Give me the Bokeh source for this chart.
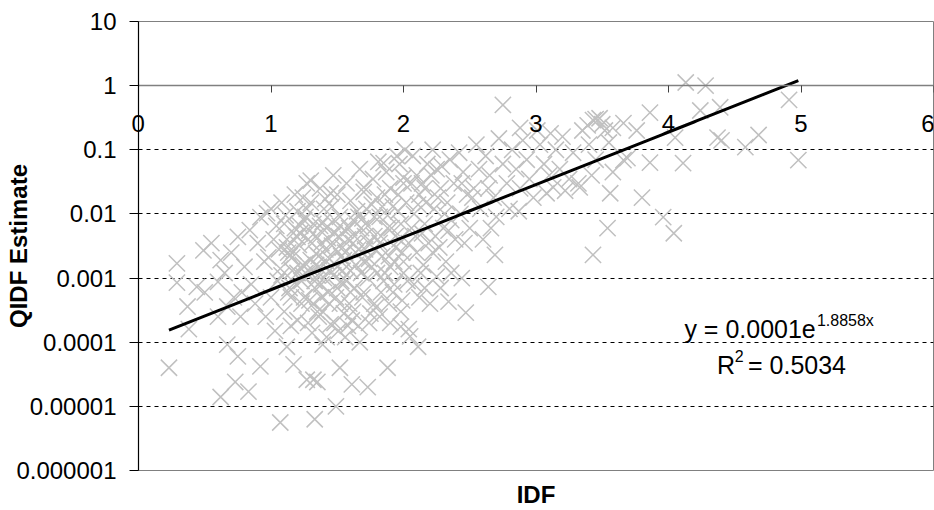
import numpy as np
from bokeh.plotting import figure
from bokeh.models import FixedTicker, CustomJSTickFormatter, Label, LinearAxis
from bokeh.embed import file_html
from bokeh.resources import INLINE

# ---------------- data ----------------
idf = [
    4.13, 4.28, 4.91, 3.86, 3.66, 4.05, 4.37, 4.40, 4.68, 4.58, 4.24, 4.39, 4.98, 3.86, 4.11, 3.76,
    3.66, 3.80, 3.96, 4.04, 2.75, 3.43, 3.48, 3.39, 3.52, 3.58, 3.56, 3.54, 3.43, 2.69, 2.64, 2.47,
    2.34, 2.11, 2.04, 2.44, 2.25, 3.13, 3.22, 3.33, 3.69, 3.01, 3.11, 2.88, 3.08, 3.32, 2.05, 1.98,
    1.88, 1.73, 1.61, 1.52, 1.49, 1.33, 1.35, 1.67, 1.39, 0.23, 0.73, 0.62, 0.83, 0.75, 0.92, 0.67,
    1.07, 1.17, 1.27, 1.12, 1.32,
    0.29, 0.49, 0.29, 0.44, 0.62, 0.37, 0.38, 0.60, 0.67, 0.75, 0.84, 0.77, 0.92, 0.97, 1.30, 1.24,
    1.20, 1.70, 1.85, 2.00, 1.45, 0.55, 0.65, 0.70, 0.80, 0.85, 0.90, 0.78, 0.88, 0.72, 0.50, 0.95,
    0.60,
    1.00, 1.02, 0.98, 1.05, 1.00, 0.96, 1.04, 1.03,
    1.08, 1.10, 1.12, 1.07, 1.13, 1.10, 1.15, 1.11, 1.14,
    1.18, 1.20, 1.22, 1.17, 1.24, 1.19, 1.23, 1.20, 1.25, 1.21,
    1.27, 1.30, 1.32, 1.28, 1.34, 1.30, 1.33, 1.29, 1.35, 1.31, 1.26, 1.34, 1.30,
    1.37, 1.40, 1.42, 1.38, 1.44, 1.40, 1.43, 1.39, 1.45, 1.41, 1.36, 1.43, 1.38,
    1.47, 1.50, 1.52, 1.48, 1.54, 1.50, 1.53, 1.49, 1.55, 1.51, 1.46, 1.53,
    1.57, 1.60, 1.62, 1.58, 1.64, 1.60, 1.63, 1.59, 1.61, 1.65, 1.56,
    1.67, 1.70, 1.72, 1.68, 1.74, 1.70, 1.73, 1.69, 1.75, 1.71,
    1.77, 1.80, 1.82, 1.78, 1.84, 1.80, 1.83, 1.79, 1.81,
    1.87, 1.90, 1.92, 1.88, 1.94, 1.90, 1.93, 1.89, 1.95,
    1.97, 2.00, 2.02, 1.98, 2.04, 2.00, 2.03, 1.99, 2.01,
    2.07, 2.10, 2.12, 2.08, 2.14, 2.10, 2.13, 2.18, 2.17, 2.19, 2.16,
    2.22, 2.25, 2.28, 2.23, 2.30, 2.27, 2.35, 2.38, 2.33, 2.36, 2.32, 2.39,
    2.42, 2.45, 2.48, 2.43, 2.50, 2.55, 2.57, 2.53, 2.58, 2.46, 2.60,
    2.62, 2.65, 2.68, 2.70, 2.72, 2.75, 2.78, 2.66, 2.80,
    2.82, 2.85, 2.88, 2.90, 2.93, 2.95, 2.98, 2.87,
    3.03, 3.06, 3.10, 3.15, 3.18, 3.20, 3.25, 3.28,
    3.35, 3.40, 3.45, 3.50, 3.55, 3.58, 3.45, 3.42,
    1.25, 1.32, 1.38, 1.44, 1.28, 1.36, 1.42, 1.48, 1.52, 1.56, 1.60, 1.20, 1.15, 1.08,
    1.12, 1.16, 1.22, 1.26, 1.31, 1.35, 1.41, 1.46, 1.51, 1.55, 1.62, 1.66, 1.71, 1.76, 1.82, 1.86,
    1.91, 1.96, 2.06, 2.11, 2.16, 2.21, 2.26, 2.31,
    1.14, 1.19, 1.24, 1.29, 1.34, 1.39, 1.44, 1.49, 1.54, 1.59, 1.64, 1.69, 1.74, 1.79, 1.84, 1.89,
    1.94, 1.99, 2.09, 2.14, 2.24, 2.29, 2.34, 2.44, 2.52, 2.64,
    1.13, 1.18, 1.23, 1.27, 1.33, 1.37, 1.42, 1.47, 1.52, 1.57, 1.63, 1.68, 1.73, 1.78, 1.83, 1.88,
    1.93, 1.97, 1.06, 1.16, 1.26, 1.36, 1.46, 1.56, 1.66, 1.76, 1.86, 1.96, 2.06, 2.16,
    1.62, 1.70, 1.78, 1.85, 1.92, 2.00, 2.08, 2.15, 2.22, 1.66, 1.74, 1.82, 1.90, 1.98, 2.12, 2.20,
    2.28, 2.36, 1.58, 1.50,
]
qidf = [
    1.12, 1.0, 0.6, 0.38, 0.26, 0.155, 0.155, 0.14, 0.17, 0.11, 0.41, 0.46, 0.069, 0.063, 0.062, 0.2,
    0.069, 0.018, 0.0089, 0.005, 0.5, 0.29, 0.31, 0.24, 0.2, 0.22, 0.021, 0.006, 0.0023, 0.0023, 0.00073, 0.00029,
    0.00043, 8.5e-5, 0.00016, 0.001, 0.00105, 0.026, 0.023, 0.026, 0.074, 0.2, 0.18, 0.22, 0.021, 0.030, 0.000123, 0.000175,
    4.0e-5, 2.0e-5, 2.2e-5, 4.0e-5, 1.0e-5, 6.3e-6, 2.4e-5, 1.0e-4, 9.2e-5, 4.0e-5, 2.4e-5, 1.4e-5, 1.7e-5, 6.0e-5, 4.2e-5, 9.2e-5,
    5.6e-6, 4.5e-5, 2.6e-5, 8.5e-5, 2.6e-5,
    0.0017, 0.0027, 0.00085, 0.00073, 0.0019, 0.00036, 0.00016, 0.00087, 0.00036, 0.0044, 0.0056, 0.00025, 0.0089, 0.0103, 0.033, 0.018,
    0.0044, 0.026, 0.062, 0.037, 0.021, 0.0035, 0.0012, 0.0025, 0.0015, 0.0008, 0.0035, 0.0006, 0.0004, 0.0005, 0.0006, 0.0018,
    0.00025,
    0.012, 0.004, 0.0021, 0.0009, 0.0005, 0.00025, 0.0065, 0.00015,
    0.015, 0.007, 0.003, 0.0014, 0.0006, 0.0003, 0.00018, 0.0095, 0.0022,
    0.02, 0.011, 0.005, 0.0026, 0.0016, 0.0008, 0.0004, 0.00022, 0.008, 0.0033,
    0.03, 0.015, 0.007, 0.004, 0.0024, 0.0012, 0.0007, 0.00045, 0.0003, 0.00014, 0.009, 0.0045, 0.0019,
    0.025, 0.012, 0.006, 0.0035, 0.002, 0.001, 0.0006, 0.0003, 0.00019, 0.017, 0.0015, 0.0042, 0.0008,
    0.04, 0.02, 0.009, 0.005, 0.003, 0.0015, 0.0009, 0.0005, 0.00028, 0.00015, 0.013, 0.0022,
    0.03, 0.016, 0.008, 0.004, 0.0025, 0.0013, 0.0007, 0.0004, 0.00022, 0.011, 0.0055,
    0.05, 0.022, 0.012, 0.006, 0.0035, 0.0018, 0.001, 0.0005, 0.00028, 0.0028,
    0.035, 0.018, 0.009, 0.0045, 0.0022, 0.0012, 0.0006, 0.00035, 0.065,
    0.045, 0.025, 0.013, 0.006, 0.003, 0.0015, 0.0008, 0.0004, 0.08,
    0.06, 0.03, 0.015, 0.007, 0.0035, 0.0018, 0.0009, 0.00045, 0.1,
    0.08, 0.04, 0.02, 0.01, 0.005, 0.0025, 0.0012, 0.06, 0.015, 0.0035, 0.0007,
    0.1, 0.05, 0.025, 0.012, 0.006, 0.003, 0.07, 0.03, 0.015, 0.008, 0.0018, 0.004,
    0.09, 0.045, 0.02, 0.01, 0.006, 0.12, 0.05, 0.025, 0.012, 0.0035, 0.004,
    0.08, 0.04, 0.018, 0.009, 0.15, 0.06, 0.03, 0.006, 0.012,
    0.1, 0.05, 0.025, 0.14, 0.07, 0.035, 0.018, 0.011,
    0.12, 0.06, 0.04, 0.1, 0.05, 0.16, 0.035, 0.09,
    0.2, 0.12, 0.07, 0.25, 0.13, 0.045, 0.3, 0.04,
    0.0005, 0.0004, 0.0005, 0.0004, 0.0002, 0.00025, 0.00012, 0.0002, 0.0004, 0.00012, 0.0006, 0.0012, 0.0005, 0.0011,
    0.004, 0.0013, 0.0065, 0.0017, 0.0035, 0.0011, 0.0028, 0.0075, 0.0045, 0.0019, 0.0035, 0.009, 0.0045, 0.014, 0.0035, 0.02,
    0.006, 0.011, 0.03, 0.014, 0.007, 0.04, 0.018, 0.01,
    0.0007, 0.0045, 0.0011, 0.0055, 0.0016, 0.0075, 0.0013, 0.0028, 0.0013, 0.006, 0.0016, 0.0085, 0.002, 0.0027, 0.013, 0.0022,
    0.0045, 0.0025, 0.0045, 0.03, 0.0045, 0.055, 0.0055, 0.03, 0.018, 0.025,
    0.0025, 0.006, 0.0009, 0.012, 0.0009, 0.0065, 0.0018, 0.0011, 0.0065, 0.0009, 0.0045, 0.0012, 0.0065, 0.009, 0.0045, 0.0095,
    0.0018, 0.004, 0.0028, 0.0021, 0.0012, 0.0022, 0.0032, 0.0025, 0.0028, 0.0015, 0.0012, 0.02, 0.006, 0.025,
    0.0003, 0.0006, 0.0004, 0.0009, 0.0006, 0.0012, 0.0008, 0.0016, 0.0025, 0.00018, 0.0002, 0.00025, 0.0002, 0.0003, 0.0005, 0.0004,
    0.0007, 0.0012, 0.00018, 0.0007,
]

x_tick_values = [0, 1, 2, 3, 4, 5, 6]
x_tick_labels = ["0", "1", "2", "3", "4", "5", "6"]
y_tick_values = [1e-6, 1e-5, 1e-4, 1e-3, 1e-2, 1e-1, 1, 10]
y_tick_labels = ["0.000001", "0.00001", "0.0001", "0.001", "0.01", "0.1", "1", "10"]
x_axis_crossing = 1          # the category axis crosses the value axis at y = 1

trend_a = 0.0001
trend_b = 1.8858
eq_main = "y = 0.0001e"
eq_exp = "1.8858x"
r2_value = "= 0.5034"

x_title = "IDF"
y_title = "QIDF Estimate"

FONT = "Liberation Sans"
FS = "24px"

# ---------------- figure ----------------
p = figure(width=934, height=510, x_range=(0, 6), y_range=(1e-6, 10),
           y_axis_type="log", output_backend="svg", toolbar_location=None,
           min_border_left=138, min_border_right=1, min_border_top=21, min_border_bottom=38,
           background_fill_color="white", border_fill_color="white")
p.outline_line_color = "#808080"
p.outline_line_width = 1

p.xgrid.visible = False
p.ygrid.ticker = FixedTicker(ticks=[t for t in y_tick_values if y_tick_values[0] < t < x_axis_crossing])
p.ygrid.grid_line_color = "black"
p.ygrid.grid_line_dash = "4 4"
p.ygrid.grid_line_width = 1

# x axis drawn across the plot at y = 1 (labels 1..6; "0" added below so it is not clipped)
xa = p.xaxis[0]
xa.fixed_location = x_axis_crossing
xa.ticker = FixedTicker(ticks=x_tick_values[1:])
xa.formatter = CustomJSTickFormatter(args=dict(tv=x_tick_values, tl=x_tick_labels),
                                     code="return tl[tv.indexOf(Math.round(tick))];")
xa.axis_line_color = "#808080"
xa.axis_line_width = 1.5
xa.major_tick_in = 0
xa.major_tick_out = 7
xa.major_tick_line_color = "#404040"
xa.minor_tick_line_color = None
xa.major_label_text_font = FONT
xa.major_label_text_font_size = FS
xa.major_label_text_color = "black"
xa.major_label_standoff = 22

# x axis title in the bottom border
xt = LinearAxis(ticker=FixedTicker(ticks=[]), axis_label=x_title, axis_line_color=None,
                major_tick_out=0, major_tick_in=0, minor_tick_line_color=None,
                major_label_standoff=0, axis_label_standoff=10,
                axis_label_text_font=FONT, axis_label_text_font_size=FS,
                axis_label_text_font_style="bold", axis_label_text_color="black")
p.add_layout(xt, "below")

# y axis
ya = p.yaxis[0]
ya.ticker = FixedTicker(ticks=y_tick_values, minor_ticks=[])
ya.formatter = CustomJSTickFormatter(
    args=dict(tvals=y_tick_values, tlabels=y_tick_labels),
    code="""
    for (let i = 0; i < tvals.length; i++) {
        if (Math.abs(Math.log10(tick) - Math.log10(tvals[i])) < 1e-6) return tlabels[i];
    }
    return "";
    """)
ya.axis_line_color = "black"
ya.axis_line_width = 1.2
ya.major_tick_in = 0
ya.major_tick_out = 9
ya.major_tick_line_color = "black"
ya.minor_tick_line_color = None
ya.major_label_text_font = FONT
ya.major_label_text_font_size = FS
ya.major_label_text_color = "black"
ya.major_label_standoff = 13
ya.axis_label = y_title
ya.axis_label_text_font = FONT
ya.axis_label_text_font_size = FS
ya.axis_label_text_font_style = "bold"
ya.axis_label_text_color = "black"
ya.axis_label_standoff = -19

# the "0" category label that sits on the y axis line, drawn by an unclipped axis
zero_label_level = 0.257
z0 = LinearAxis(ticker=FixedTicker(ticks=[zero_label_level], minor_ticks=[]),
                formatter=CustomJSTickFormatter(args=dict(lab=x_tick_labels[0]), code="return lab;"),
                axis_line_color=None, major_tick_out=0, major_tick_in=0,
                minor_tick_line_color=None, major_tick_line_color=None,
                major_label_standoff=-802, major_label_text_font=FONT,
                major_label_text_font_size=FS, major_label_text_color="black")
p.add_layout(z0, "right")

# ---------------- marks ----------------
p.scatter(idf, qidf, marker="x", size=23, line_color="#C0C0C0", line_width=1.5)

xs = np.linspace(min(idf), max(idf), 200)
ys = trend_a * np.exp(trend_b * xs)
p.line(xs, ys, line_color="black", line_width=3)

# ---------------- text ----------------
EQ_FS = "25px"
p.add_layout(Label(x=4.12, y=1.63e-4, text=eq_main, text_font=FONT, text_font_size=EQ_FS,
                   text_align="left", text_baseline="alphabetic", text_color="black"))
p.add_layout(Label(x=5.12, y=2.19e-4, text=eq_exp, text_font=FONT, text_font_size="16px",
                   text_align="left", text_baseline="alphabetic", text_color="black"))
p.add_layout(Label(x=4.366, y=4.49e-5, text="R", text_font=FONT, text_font_size=EQ_FS,
                   text_align="left", text_baseline="alphabetic", text_color="black"))
p.add_layout(Label(x=4.50, y=6.0e-5, text="2", text_font=FONT, text_font_size="16px",
                   text_align="left", text_baseline="alphabetic", text_color="black"))
p.add_layout(Label(x=4.60, y=4.49e-5, text=r2_value, text_font=FONT, text_font_size=EQ_FS,
                   text_align="left", text_baseline="alphabetic", text_color="black"))

open("out.html", "w").write(file_html(p, INLINE))
